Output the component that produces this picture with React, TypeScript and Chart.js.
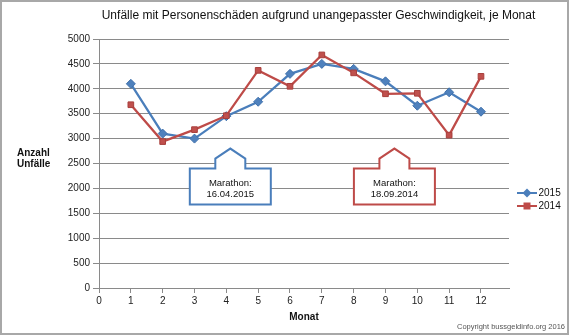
import React, { useEffect, useRef } from "react";
import { Chart, registerables } from "chart.js";

Chart.register(...registerables);

const months = [1, 2, 3, 4, 5, 6, 7, 8, 9, 10, 11, 12];
const values2015 = [4100, 3100, 3000, 3450, 3740, 4300, 4500, 4400, 4150, 3660, 3930, 3540];
const values2014 = [3680, 2940, 3180, 3460, 4370, 4050, 4680, 4320, 3900, 3910, 3070, 4250];
const xTickValues = [0, 1, 2, 3, 4, 5, 6, 7, 8, 9, 10, 11, 12];
const seriesLabels = ["2015", "2014"];
const callouts = [
  { x: 4.125, y: 2800, lines: ["Marathon:", "16.04.2015"], color: "#4a7ebb" },
  { x: 9.28, y: 2800, lines: ["Marathon:", "18.09.2014"], color: "#be4b48" },
];

const TITLE = "Unfälle mit Personenschäden aufgrund unangepasster Geschwindigkeit, je Monat";
const FONT = "'Liberation Sans', Arial, sans-serif";
const BLUE = "#4a7ebb";
const RED = "#be4b48";

const decorPlugin = {
  id: "decor",
  afterDraw(chart: any) {
    const ctx = chart.ctx as CanvasRenderingContext2D;
    const xs = chart.scales.x;
    const ys = chart.scales.y;
    ctx.save();
    // title
    ctx.fillStyle = "#111";
    ctx.font = `12px ${FONT}`;
    ctx.textAlign = "center";
    ctx.textBaseline = "middle";
    ctx.fillText(TITLE, 318.5, 16);
    // y axis title
    ctx.font = `bold 10px ${FONT}`;
    ctx.textAlign = "left";
    ctx.fillText("Anzahl", 17, 153);
    ctx.fillText("Unfälle", 17, 164.5);
    // x axis title
    ctx.textAlign = "center";
    ctx.fillText("Monat", (chart.chartArea.left + chart.chartArea.right) / 2, 317);
    // legend
    const items = [
      { label: seriesLabels[0], color: BLUE, style: "diamond", y: 193 },
      { label: seriesLabels[1], color: RED, style: "square", y: 206 },
    ];
    items.forEach((it) => {
      ctx.strokeStyle = it.color;
      ctx.lineWidth = 2;
      ctx.beginPath();
      ctx.moveTo(517, it.y);
      ctx.lineTo(537, it.y);
      ctx.stroke();
      ctx.fillStyle = it.color;
      ctx.beginPath();
      if (it.style === "diamond") {
        ctx.moveTo(527, it.y - 4.5);
        ctx.lineTo(531.5, it.y);
        ctx.lineTo(527, it.y + 4.5);
        ctx.lineTo(522.5, it.y);
        ctx.closePath();
      } else {
        ctx.rect(523.5, it.y - 3.5, 7, 7);
      }
      ctx.fill();
      ctx.fillStyle = "#111";
      ctx.font = `10px ${FONT}`;
      ctx.textAlign = "left";
      ctx.fillText(it.label, 538.5, it.y);
    });
    // callouts
    callouts.forEach((c) => {
      const px = xs.getPixelForValue(c.x);
      const py = ys.getPixelForValue(c.y);
      const l = px - 40.5, r = px + 40.5;
      const sl = px - 15, sr = px + 15;
      const sh = py + 10, top = py + 20, bot = py + 56;
      ctx.beginPath();
      ctx.moveTo(l, top);
      ctx.lineTo(sl, top);
      ctx.lineTo(sl, sh);
      ctx.lineTo(px, py);
      ctx.lineTo(sr, sh);
      ctx.lineTo(sr, top);
      ctx.lineTo(r, top);
      ctx.lineTo(r, bot);
      ctx.lineTo(l, bot);
      ctx.closePath();
      ctx.fillStyle = "#ffffff";
      ctx.fill();
      ctx.strokeStyle = c.color;
      ctx.lineWidth = 2;
      ctx.stroke();
      ctx.fillStyle = "#111";
      ctx.font = `9.5px ${FONT}`;
      ctx.textAlign = "center";
      ctx.fillText(c.lines[0], px, top + 14.5);
      ctx.fillText(c.lines[1], px, top + 25.5);
    });
    // copyright
    ctx.fillStyle = "#555";
    ctx.font = `7.5px ${FONT}`;
    ctx.textAlign = "right";
    ctx.fillText("Copyright bussgeldinfo.org 2016", 565, 327);
    // border
    ctx.strokeStyle = "#a8a8a8";
    ctx.lineWidth = 2;
    ctx.strokeRect(1, 1, 567, 333);
    ctx.restore();
  },
};

export default function App() {
  const ref = useRef<HTMLCanvasElement>(null);
  useEffect(() => {
    document.body.style.margin = "0";
    const canvas = ref.current!;
    const chart = new Chart(canvas, {
      type: "line",
      data: {
        datasets: [
          {
            label: seriesLabels[0],
            data: months.map((m, i) => ({ x: m, y: values2015[i] })),
            borderColor: BLUE,
            backgroundColor: "#4f81bd",
            pointBorderColor: "#3f70ab",
            pointBorderWidth: 1,
            borderWidth: 2.25,
            pointStyle: "rectRot",
            pointRadius: 4.5,
            tension: 0,
            order: 1,
          },
          {
            label: seriesLabels[1],
            data: months.map((m, i) => ({ x: m, y: values2014[i] })),
            borderColor: RED,
            backgroundColor: "#c0504d",
            pointBorderColor: "#a83f3c",
            pointBorderWidth: 1,
            borderWidth: 2.25,
            pointStyle: "rect",
            pointRadius: 4,
            tension: 0,
            order: 0,
          },
        ],
      },
      options: {
        animation: false,
        responsive: false,
        maintainAspectRatio: false,
        layout: { padding: { left: 0, top: 39, right: 61, bottom: 0 } },
        plugins: { legend: { display: false }, title: { display: false }, tooltip: { enabled: false } },
        scales: {
          x: {
            type: "linear",
            min: 0,
            max: 12.88,
            afterBuildTicks: (s: any) => {
              s.ticks = xTickValues.map((v) => ({ value: v }));
            },
            afterFit: (s: any) => {
              s.height = 48;
            },
            ticks: {
              stepSize: 1,
              color: "#222",
              font: { family: FONT, size: 10 },
              padding: 2,
              maxRotation: 0,
              autoSkip: false,
              callback: (v: any) => String(v),
            },
            grid: { drawOnChartArea: false, drawTicks: true, tickLength: 5, color: "#8a8a8a" },
            border: { color: "#8a8a8a", width: 1 },
          },
          y: {
            type: "linear",
            min: 0,
            max: 5000,
            afterFit: (s: any) => {
              s.width = 99;
            },
            ticks: {
              stepSize: 500,
              color: "#222",
              font: { family: FONT, size: 10 },
              padding: 3,
              callback: (v: any) => String(v),
            },
            grid: { color: "#8a8a8a", lineWidth: 1, tickLength: 6 },
            border: { color: "#8a8a8a", width: 1 },
          },
        },
      },
      plugins: [decorPlugin],
    });
    return () => chart.destroy();
  }, []);
  return (
    <div style={{ width: 570, height: 336, position: "relative", background: "#fff" }}>
      <canvas ref={ref} width={570} height={336} style={{ width: 570, height: 336, display: "block" }} />
    </div>
  );
}
